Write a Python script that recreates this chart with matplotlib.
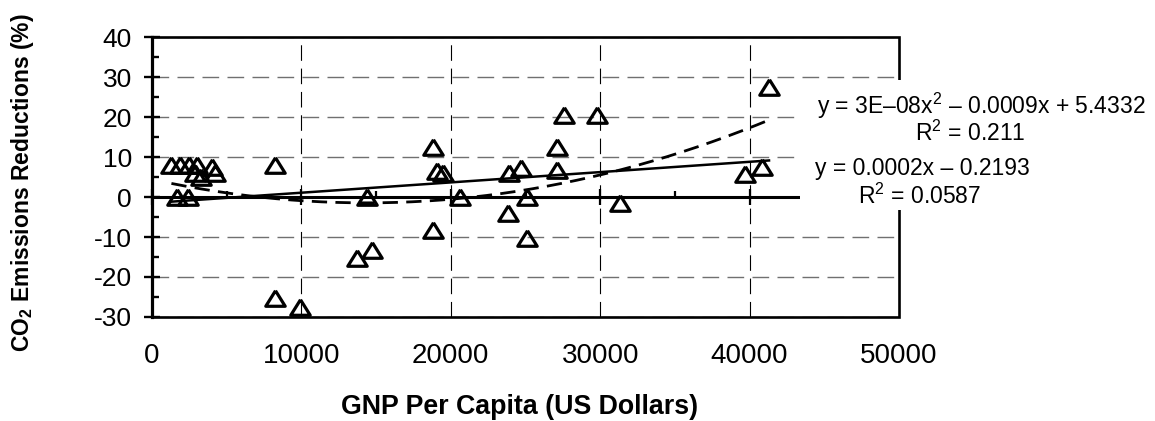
import numpy as np
import matplotlib
matplotlib.use("Agg")
import matplotlib.pyplot as plt
from matplotlib.patches import Rectangle
from matplotlib.ticker import MultipleLocator

plt.rcParams['font.family'] = ['Liberation Sans', 'DejaVu Sans']
plt.rcParams['mathtext.fontset'] = 'custom'
plt.rcParams['mathtext.rm'] = 'Liberation Sans'
plt.rcParams['mathtext.bf'] = 'Liberation Sans:bold'
plt.rcParams['mathtext.it'] = 'Liberation Sans:italic'

# ---- data ----
gnp = [1300, 1900, 2500, 3000, 4000, 2900, 3300, 4200, 1700, 2400,
       8200, 8200, 9900, 13700, 14700, 14400, 18800, 19100, 19500, 18800,
       20600, 23800, 23900, 24700, 25100, 25100, 27100, 27100, 27600, 29800,
       31300, 39700, 40800, 41300]
co2 = [8, 8, 8, 8, 7.5, 6, 5, 6, 0, 0,
       8, -25.3, -27.5, -15.3, -13.3, 0, 12.5, 6.5, 6, -8.2,
       0, -4, 6, 7.2, 0, -10.2, 12.5, 6.7, 20.5, 20.5,
       -1.5, 5.8, 7.5, 27.5]
x_ticks = [0, 10000, 20000, 30000, 40000, 50000]
y_ticks = [-30, -20, -10, 0, 10, 20, 30, 40]
eq_quad = "y = 3E\u201308x$^2$ \u2013 0.0009x + 5.4332"
r2_quad = "R$^2$ = 0.211"
eq_lin = "y = 0.0002x \u2013 0.2193"
r2_lin = "R$^2$ = 0.0587"

W, H = 1155, 421
fig = plt.figure(figsize=(W / 100, H / 100), dpi=100)
L, R, B, T = 152, 899, 317, 37
ax = fig.add_axes([L / W, (H - B) / H, (R - L) / W, (B - T) / H])
ax.set_xlim(x_ticks[0], x_ticks[-1])
ax.set_ylim(y_ticks[0], y_ticks[-1])

# grid
for xv in x_ticks[1:-1]:
    ax.axvline(xv, color='black', lw=0.8, dashes=(14, 7), zorder=1)
for yv in y_ticks:
    if yv != 0:
        ax.axhline(yv, color='#707070', lw=1.0, dashes=(12, 6), zorder=1)

# spines / frame
for s in ['top', 'right']:
    ax.spines[s].set_visible(False)
ax.add_patch(Rectangle((0, 0), 1, 1, transform=ax.transAxes, fill=False,
                       lw=1.9, edgecolor='black', zorder=3, clip_on=False))
ax.spines['left'].set_linewidth(2.3)
ax.spines['left'].set_zorder(4)
ax.spines['bottom'].set_position(('data', 0))
ax.spines['bottom'].set_linewidth(2.2)
ax.spines['bottom'].set_zorder(4)

# ticks
ax.xaxis.set_major_locator(MultipleLocator(10000))
ax.xaxis.set_minor_locator(MultipleLocator(5000))
ax.yaxis.set_major_locator(MultipleLocator(10))
ax.yaxis.set_minor_locator(MultipleLocator(5))
ax.tick_params(axis='x', which='major', direction='inout', length=12, width=1.6,
               labelbottom=False)
ax.tick_params(axis='x', which='minor', direction='in', length=4.5, width=1.6)
ax.tick_params(axis='y', which='major', direction='inout', length=11, width=1.7,
               labelsize=19, pad=9)
ax.tick_params(axis='y', which='minor', direction='in', length=5, width=1.7)
ax.set_yticks(y_ticks)
ax.set_yticklabels([str(v) for v in y_ticks])

sec = ax.secondary_xaxis('bottom')
sec.set_xticks(x_ticks)
sec.set_xticklabels([str(v) for v in x_ticks])
sec.tick_params(length=0, labelsize=20, pad=19)
sec.spines['bottom'].set_visible(False)

# trendlines
xs = np.array(gnp, dtype=float)
ys = np.array(co2, dtype=float)
xx = np.linspace(xs.min(), xs.max(), 200)
p1 = np.polyfit(xs, ys, 1)
p2 = np.polyfit(xs, ys, 2)
ax.plot(xx, np.polyval(p1, xx), color='black', lw=1.8, zorder=5)
ax.plot(xx, np.polyval(p2, xx), color='black', lw=2.0, dashes=(5.5, 3), zorder=5)

# markers
tri = [(0, 0.8), (-1, -0.8), (1, -0.8), (0, 0.8)]
ax.plot(gnp, co2, linestyle='none', marker=tri, markersize=14,
        markerfacecolor='none', markeredgecolor='black', markeredgewidth=2.3,
        zorder=6)

# labels
ax.set_xlabel('GNP Per Capita (US Dollars)', fontsize=19.3, fontweight='bold')
ax.xaxis.set_label_coords((520 - L) / (R - L), -(407 - B) / (B - T))
ax.xaxis.label.set_va('center')
ax.set_ylabel(r'CO$_\mathbf{2}$ Emissions Reductions (%)', fontsize=16.5,
              fontweight='bold')
ax.yaxis.set_label_coords(-(L - 23) / (R - L), (B - 183) / (B - T))
ax.yaxis.label.set_va('center')

# equation label area (white box hides lines behind it)
fig.add_artist(Rectangle((800 / W, (H - 210) / H), (W - 800) / W, 130 / H,
                         transform=fig.transFigure, facecolor='white',
                         edgecolor='none', zorder=10))
kw = dict(fontsize=16.5, ha='center', va='center', zorder=11)
fig.text(981 / W, 1 - 106 / H, eq_quad, **kw)
fig.text(970 / W, 1 - 133 / H, r2_quad, **kw)
fig.text(922 / W, 1 - 169 / H, eq_lin, **kw)
fig.text(920 / W, 1 - 196 / H, r2_lin, **kw)

fig.savefig('out.png', dpi=100)
